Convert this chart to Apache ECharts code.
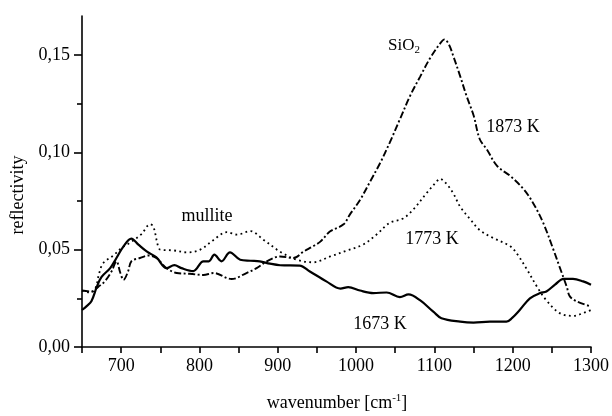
<!DOCTYPE html>
<html>
<head>
<meta charset="utf-8">
<script src="https://cdn.jsdelivr.net/npm/echarts@6/dist/echarts.min.js"></script>
<style>
  html, body { margin: 0; padding: 0; background: #fff; }
  #chart { width: 612px; height: 416px; }
</style>
</head>
<body>
<div id="chart"></div>
<script>
// Reflectivity spectra of the samples annealed at 1673 K, 1773 K and 1873 K.
// wavenumber in cm^-1, reflectivity as a fraction

const w1673 = [650, 656, 662, 669, 675, 686, 694, 703, 713, 722, 733, 745, 758, 768, 777, 792, 805, 812, 819, 828, 839, 852, 865, 877, 890, 903, 928, 941, 962, 980, 990, 1005, 1022, 1039, 1056, 1067, 1082, 1099, 1109, 1133, 1150, 1171, 1192, 1199, 1209, 1222, 1235, 1243, 1254, 1265, 1277, 1290, 1300];
const r1673 = [0.019, 0.021, 0.0235, 0.031, 0.036, 0.0405, 0.0457, 0.0517, 0.0557, 0.0526, 0.049, 0.046, 0.0405, 0.042, 0.0405, 0.039, 0.044, 0.044, 0.0474, 0.044, 0.0486, 0.0448, 0.0443, 0.044, 0.0428, 0.042, 0.0418, 0.0388, 0.0337, 0.030, 0.0308, 0.029, 0.0277, 0.028, 0.0256, 0.027, 0.0239, 0.018, 0.0148, 0.013, 0.0125, 0.013, 0.013, 0.0148, 0.019, 0.025, 0.0277, 0.0285, 0.032, 0.035, 0.035, 0.0337, 0.032];

const w1773 = [650, 660, 667, 672, 677, 690, 701, 713, 726, 737, 741, 747, 750, 767, 784, 801, 818, 835, 848, 865, 882, 899, 907, 924, 945, 967, 988, 1009, 1026, 1043, 1060, 1073, 1090, 1103, 1107, 1115, 1124, 1133, 1146, 1158, 1175, 1197, 1207, 1218, 1231, 1243, 1260, 1277, 1294, 1300];
const r1773 = [0.029, 0.028, 0.030, 0.038, 0.043, 0.047, 0.051, 0.054, 0.058, 0.063, 0.062, 0.052, 0.050, 0.0496, 0.0486, 0.050, 0.055, 0.059, 0.0577, 0.0595, 0.055, 0.050, 0.048, 0.0448, 0.0435, 0.0465, 0.0495, 0.0526, 0.0577, 0.0638, 0.066, 0.0706, 0.079, 0.085, 0.0864, 0.084, 0.079, 0.072, 0.0655, 0.060, 0.056, 0.0517, 0.047, 0.040, 0.031, 0.024, 0.0174, 0.016, 0.018, 0.019];

const w1873 = [650, 662, 671, 679, 688, 694, 699, 703, 709, 713, 724, 735, 745, 758, 771, 788, 805, 818, 841, 860, 873, 886, 903, 920, 933, 945, 954, 967, 984, 992, 1005, 1018, 1031, 1043, 1056, 1069, 1082, 1094, 1107, 1113, 1119, 1124, 1133, 1141, 1150, 1158, 1167, 1180, 1197, 1214, 1226, 1239, 1252, 1260, 1269, 1273, 1282, 1300];
const r1873 = [0.029, 0.0285, 0.031, 0.0337, 0.039, 0.044, 0.038, 0.0345, 0.039, 0.044, 0.0457, 0.047, 0.0457, 0.0405, 0.038, 0.0376, 0.037, 0.038, 0.0349, 0.038, 0.0405, 0.044, 0.0465, 0.0457, 0.049, 0.0517, 0.054, 0.0594, 0.063, 0.068, 0.0755, 0.085, 0.0947, 0.105, 0.117, 0.129, 0.139, 0.148, 0.1557, 0.158, 0.155, 0.1496, 0.139, 0.129, 0.119, 0.1067, 0.1015, 0.093, 0.0878, 0.081, 0.074, 0.0637, 0.050, 0.041, 0.031, 0.026, 0.0234, 0.0208];

// axis ticks and labels
const xLabelValues = [700, 800, 900, 1000, 1100, 1200, 1300];
const xTickValues = [650, 700, 750, 800, 850, 900, 950, 1000, 1050, 1100, 1150, 1200, 1250, 1300];
const yLabelValues = [0, 0.05, 0.10, 0.15];
const yMinorTickValues = [0.025, 0.075, 0.125];

const FONT = '"Liberation Serif", "Times New Roman", serif';

function pairs(xs, ys) {
  return xs.map((x, i) => [x, ys[i]]);
}

const chart = echarts.init(document.getElementById('chart'), null, { renderer: 'canvas' });

const axisLineStyle = { color: '#000', width: 1.6 };

chart.setOption({
  animation: false,
  backgroundColor: '#fff',
  grid: { left: 82, right: 21, top: 16, bottom: 69 },
  xAxis: {
    type: 'value',
    min: 650,
    max: 1300,
    axisLine: { show: true, onZero: false, lineStyle: axisLineStyle },
    axisTick: { show: true, inside: false, length: 6, lineStyle: axisLineStyle, customValues: xTickValues },
    axisLabel: {
      customValues: xLabelValues, color: '#000', fontFamily: FONT, fontSize: 18, margin: 10,
      formatter: v => String(v)
    },
    splitLine: { show: false }
  },
  yAxis: [
    {
      type: 'value',
      min: 0,
      max: 0.17,
      axisLine: { show: true, onZero: false, lineStyle: axisLineStyle },
      axisTick: { show: true, inside: false, length: 8, lineStyle: axisLineStyle, customValues: yLabelValues },
      axisLabel: {
        customValues: yLabelValues,
        color: '#000', fontFamily: FONT, fontSize: 18, margin: 12,
        formatter: v => v.toFixed(2).replace('.', ',')
      },
      splitLine: { show: false }
    },
    {
      type: 'value',
      min: 0,
      max: 0.17,
      position: 'left',
      axisLine: { show: false },
      axisTick: { show: true, inside: false, length: 5, lineStyle: axisLineStyle, customValues: yMinorTickValues },
      axisLabel: { show: false },
      splitLine: { show: false }
    }
  ],
  series: [
    {
      name: '1673 K',
      type: 'line',
      data: pairs(w1673, r1673),
      showSymbol: false,
      smooth: 0.35,
      lineStyle: { color: '#000', width: 2.2, type: 'solid' }
    },
    {
      name: '1773 K',
      type: 'line',
      data: pairs(w1773, r1773),
      showSymbol: false,
      smooth: 0.35,
      lineStyle: { color: '#000', width: 1.8, type: [1.8, 3.4], cap: 'butt' }
    },
    {
      name: '1873 K',
      type: 'line',
      data: pairs(w1873, r1873),
      showSymbol: false,
      smooth: 0.35,
      lineStyle: { color: '#000', width: 1.9, type: [7, 2.5, 2, 2.5] }
    }
  ],
  graphic: [
    {
      type: 'text', x: 18, y: 195, rotation: Math.PI / 2,
      style: { text: 'reflectivity', font: '18px ' + FONT, fill: '#000', align: 'center', verticalAlign: 'middle' }
    },
    {
      type: 'text', x: 337, y: 403,
      style: {
        text: '{t|wavenumber [cm}{s|-1}{t|]}',
        align: 'center', verticalAlign: 'middle',
        rich: {
          t: { fontFamily: FONT, fontSize: 18, fill: '#000', color: '#000' },
          s: { fontFamily: FONT, fontSize: 11, fill: '#000', color: '#000', padding: [0, 0, 9, 0] }
        }
      }
    },
    {
      type: 'text', x: 207, y: 216,
      style: { text: 'mullite', font: '18px ' + FONT, fill: '#000', align: 'center', verticalAlign: 'middle' }
    },
    {
      type: 'text', x: 404, y: 46,
      style: {
        text: '{t|SiO}{s|2}',
        align: 'center', verticalAlign: 'middle',
        rich: {
          t: { fontFamily: FONT, fontSize: 17, fill: '#000', color: '#000' },
          s: { fontFamily: FONT, fontSize: 11, fill: '#000', color: '#000', padding: [9, 0, 0, 0] }
        }
      }
    },
    {
      type: 'text', x: 513, y: 127,
      style: { text: '1873 K', font: '18px ' + FONT, fill: '#000', align: 'center', verticalAlign: 'middle' }
    },
    {
      type: 'text', x: 432, y: 239,
      style: { text: '1773 K', font: '18px ' + FONT, fill: '#000', align: 'center', verticalAlign: 'middle' }
    },
    {
      type: 'text', x: 380, y: 324,
      style: { text: '1673 K', font: '18px ' + FONT, fill: '#000', align: 'center', verticalAlign: 'middle' }
    }
  ]
});
</script>
</body>
</html>
